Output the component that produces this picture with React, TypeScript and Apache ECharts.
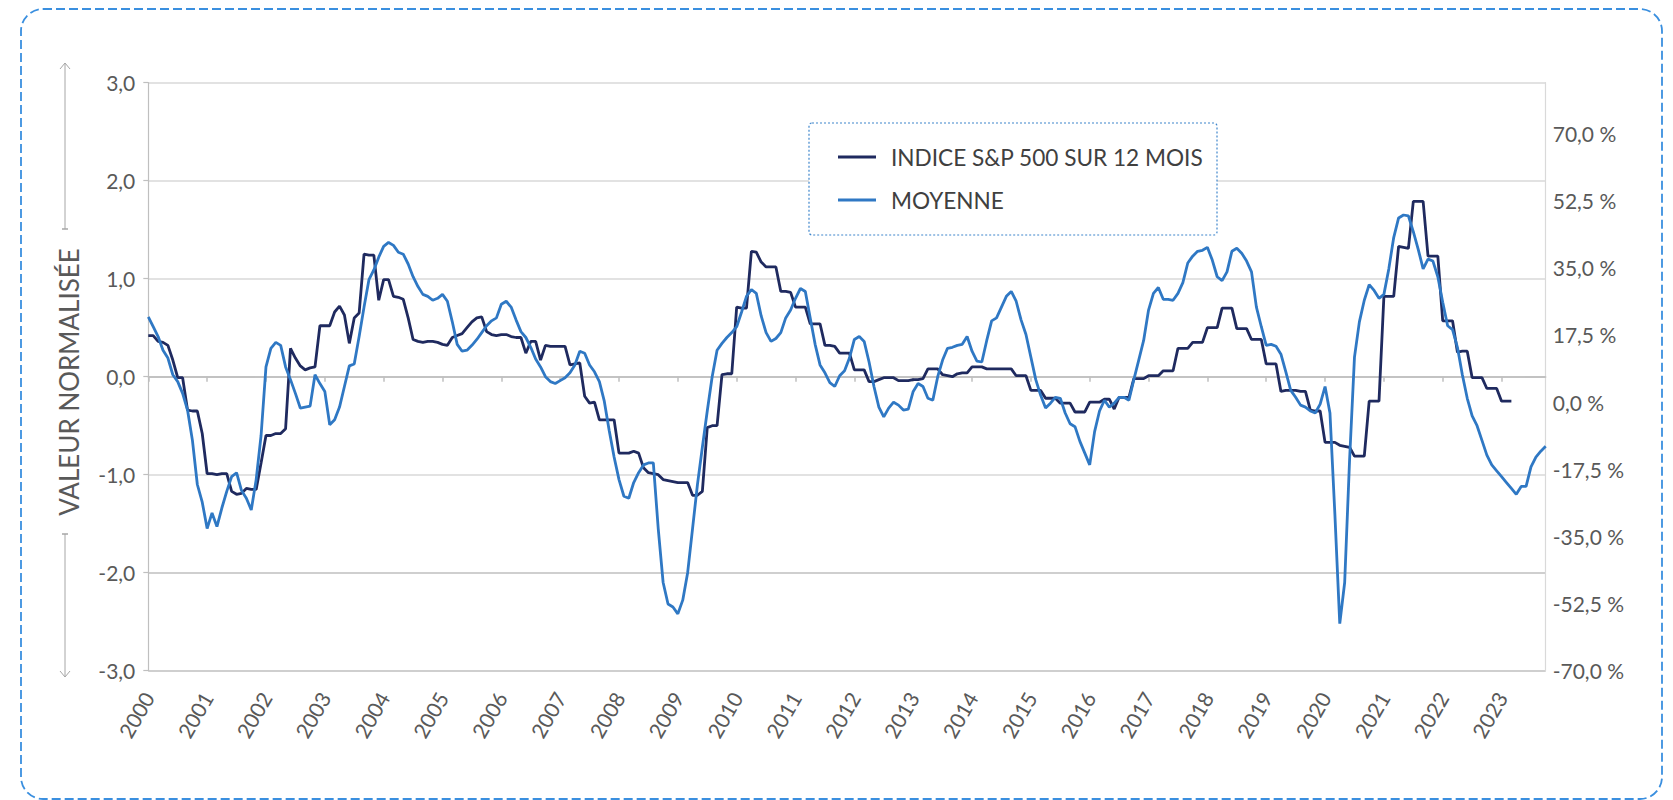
import React, { useEffect, useRef } from 'react';
import * as echarts from 'echarts';

const FONT = 'Lato, "Open Sans", sans-serif';

// Year labels of the monthly category axis (Jan 2000 -> Oct 2023)
const yearLabels = [
  '2000', '2001', '2002', '2003', '2004', '2005', '2006', '2007', '2008', '2009', '2010', '2011',
  '2012', '2013', '2014', '2015', '2016', '2017', '2018', '2019', '2020', '2021', '2022', '2023',
];
const monthsInLastYear = 10;

// INDICE S&P 500 SUR 12 MOIS (normalised), monthly
const sp500_2000_2003 = [
  0.42, 0.42, 0.36, 0.35, 0.32, 0.17, -0.01, -0.01, -0.34, -0.35, -0.35, -0.58,
  -0.99, -0.99, -1.0, -0.99, -0.99, -1.17, -1.2, -1.19, -1.14, -1.15, -1.15, -0.88,
  -0.6, -0.6, -0.58, -0.58, -0.53, 0.29, 0.19, 0.11, 0.07, 0.09, 0.1, 0.52,
  0.52, 0.52, 0.66, 0.72, 0.63, 0.34, 0.6, 0.65, 1.25, 1.24, 1.24, 0.78,
];
const sp500_2004_2007 = [
  0.99, 0.99, 0.82, 0.81, 0.79, 0.6, 0.38, 0.36, 0.35, 0.36, 0.36, 0.35,
  0.33, 0.32, 0.4, 0.42, 0.44, 0.5, 0.56, 0.6, 0.61, 0.46, 0.43, 0.42,
  0.43, 0.43, 0.41, 0.4, 0.4, 0.24, 0.36, 0.36, 0.17, 0.32, 0.31, 0.31,
  0.31, 0.31, 0.12, 0.13, 0.14, -0.2, -0.27, -0.26, -0.44, -0.44, -0.44, -0.44,
];
const sp500_2008_2011 = [
  -0.78, -0.78, -0.78, -0.76, -0.78, -0.93, -0.98, -0.99, -1.0, -1.05, -1.06, -1.07,
  -1.08, -1.08, -1.08, -1.21, -1.21, -1.17, -0.52, -0.5, -0.5, 0.02, 0.03, 0.03,
  0.71, 0.7, 0.7, 1.28, 1.27, 1.17, 1.12, 1.12, 1.12, 0.87, 0.87, 0.86,
  0.71, 0.71, 0.71, 0.54, 0.54, 0.54, 0.32, 0.32, 0.31, 0.24, 0.24, 0.24,
];
const sp500_2012_2015 = [
  0.07, 0.07, 0.07, -0.05, -0.05, -0.03, -0.01, -0.01, -0.01, -0.04, -0.04, -0.04,
  -0.03, -0.03, -0.02, 0.08, 0.08, 0.08, 0.02, 0.01, 0.0, 0.03, 0.04, 0.04,
  0.1, 0.1, 0.1, 0.08, 0.08, 0.08, 0.08, 0.08, 0.08, 0.01, 0.01, 0.01,
  -0.14, -0.14, -0.14, -0.22, -0.22, -0.22, -0.27, -0.27, -0.27, -0.36, -0.36, -0.36,
];
const sp500_2016_2019 = [
  -0.26, -0.26, -0.26, -0.23, -0.23, -0.33, -0.21, -0.21, -0.21, -0.02, -0.02, -0.02,
  0.01, 0.01, 0.01, 0.06, 0.06, 0.06, 0.29, 0.29, 0.29, 0.35, 0.35, 0.35,
  0.5, 0.5, 0.5, 0.7, 0.7, 0.7, 0.49, 0.49, 0.49, 0.38, 0.38, 0.38,
  0.13, 0.13, 0.13, -0.15, -0.14, -0.14, -0.14, -0.15, -0.15, -0.34, -0.35, -0.35,
];
const sp500_2020_2023 = [
  -0.67, -0.67, -0.67, -0.7, -0.71, -0.72, -0.81, -0.81, -0.81, -0.25, -0.25, -0.25,
  0.82, 0.82, 0.82, 1.33, 1.32, 1.31, 1.79, 1.79, 1.79, 1.23, 1.23, 1.23,
  0.57, 0.57, 0.57, 0.25, 0.26, 0.26, -0.01, -0.01, -0.01, -0.12, -0.12, -0.12,
  -0.25, -0.25, -0.25, null, null, null, null, null, null, null,
];

// MOYENNE (normalised), monthly
const moyenne_2000_2003 = [
  0.61, 0.51, 0.41, 0.27, 0.19, 0.02, -0.05, -0.17, -0.34, -0.65, -1.1, -1.28,
  -1.55, -1.39, -1.53, -1.34, -1.17, -1.02, -0.98, -1.16, -1.24, -1.36, -1.05, -0.6,
  0.1, 0.29, 0.35, 0.32, 0.1, -0.03, -0.17, -0.32, -0.31, -0.3, 0.02, -0.07,
  -0.15, -0.49, -0.44, -0.31, -0.1, 0.11, 0.13, 0.41, 0.71, 0.99, 1.09, 1.22,
];
const moyenne_2004_2007 = [
  1.33, 1.37, 1.34, 1.27, 1.25, 1.15, 1.02, 0.92, 0.84, 0.82, 0.78, 0.8,
  0.84, 0.77, 0.56, 0.33, 0.26, 0.27, 0.32, 0.38, 0.45, 0.52, 0.57, 0.6,
  0.74, 0.77, 0.71, 0.58, 0.46, 0.4, 0.3, 0.18, 0.1, 0.0, -0.05, -0.07,
  -0.04, -0.01, 0.04, 0.12, 0.26, 0.24, 0.12, 0.05, -0.05, -0.25, -0.55, -0.82,
];
const moyenne_2008_2011 = [
  -1.05, -1.22, -1.24, -1.08, -0.98, -0.9, -0.88, -0.88, -1.55, -2.1, -2.32, -2.35,
  -2.42, -2.28, -2.0, -1.55, -1.1, -0.72, -0.35, 0.0, 0.27, 0.34, 0.4, 0.45,
  0.51, 0.66, 0.82, 0.89, 0.85, 0.62, 0.45, 0.36, 0.39, 0.45, 0.6, 0.68,
  0.8, 0.9, 0.87, 0.6, 0.33, 0.12, 0.04, -0.06, -0.1, 0.01, 0.06, 0.19,
];
const moyenne_2012_2015 = [
  0.38, 0.41, 0.36, 0.15, -0.1, -0.31, -0.41, -0.32, -0.26, -0.29, -0.34, -0.33,
  -0.15, -0.07, -0.1, -0.22, -0.24, 0.0, 0.17, 0.29, 0.3, 0.32, 0.33, 0.41,
  0.26, 0.16, 0.15, 0.37, 0.57, 0.6, 0.71, 0.82, 0.87, 0.77, 0.58, 0.43,
  0.2, -0.03, -0.19, -0.32, -0.27, -0.21, -0.22, -0.37, -0.48, -0.51, -0.66, -0.78,
];
const moyenne_2016_2019 = [
  -0.9, -0.56, -0.35, -0.24, -0.31, -0.27, -0.21, -0.21, -0.24, -0.03, 0.17, 0.37,
  0.68, 0.85, 0.91, 0.79, 0.79, 0.78, 0.85, 0.96, 1.16, 1.23, 1.28, 1.29,
  1.32, 1.19, 1.02, 0.98, 1.07, 1.28, 1.31, 1.26, 1.18, 1.07, 0.71, 0.51,
  0.32, 0.33, 0.31, 0.23, 0.05, -0.14, -0.21, -0.29, -0.31, -0.35, -0.37, -0.28,
];
const moyenne_2020_2023 = [
  -0.1, -0.37, -1.4, -2.52, -2.1, -0.85, 0.2, 0.56, 0.78, 0.94, 0.88, 0.8,
  0.84, 1.1, 1.42, 1.62, 1.65, 1.64, 1.48, 1.3, 1.1, 1.2, 1.18, 1.02,
  0.76, 0.52, 0.48, 0.3, 0.02, -0.22, -0.4, -0.5, -0.65, -0.8, -0.9, -0.96,
  -1.02, -1.08, -1.14, -1.2, -1.12, -1.12, -0.92, -0.82, -0.76, -0.71,
];

const sp500 = [
  ...sp500_2000_2003, ...sp500_2004_2007, ...sp500_2008_2011,
  ...sp500_2012_2015, ...sp500_2016_2019, ...sp500_2020_2023,
];
const moyenne = [
  ...moyenne_2000_2003, ...moyenne_2004_2007, ...moyenne_2008_2011,
  ...moyenne_2012_2015, ...moyenne_2016_2019, ...moyenne_2020_2023,
];

// Left axis (normalised value) and right axis (percent) bounds
const leftMin = -3;
const leftMax = 3;
const leftStep = 1;
const rightMin = -70;
const rightMax = 83.2;
const rightStep = 17.5;

const seriesNames = ['INDICE S&P 500 SUR 12 MOIS', 'MOYENNE'];
const seriesColors = ['#1f2a5f', '#2f78c4'];

const months: string[] = [];
yearLabels.forEach((y, yi) => {
  const n = yi === yearLabels.length - 1 ? monthsInLastYear : 12;
  for (let m = 1; m <= n; m++) months.push(`${y}-${String(m).padStart(2, '0')}`);
});

const GRAY = '#a6a6a6';
const LABEL_SIZE = 21;

export default function App() {
  const ref = useRef<HTMLDivElement>(null);

  useEffect(() => {
    if (!ref.current) return;
    const chart = echarts.init(ref.current, null, { renderer: 'svg' });

    const option: any = {
      animation: false,
      backgroundColor: '#ffffff',
      textStyle: { fontFamily: FONT },
      grid: { left: 148.3, right: 127.3, top: 82.7, bottom: 129.3, containLabel: false },
      legend: {
        show: true,
        orient: 'vertical',
        left: 838,
        top: 144,
        padding: 0,
        icon: 'rect',
        itemWidth: 38,
        itemHeight: 3,
        itemGap: 17,
        selectedMode: false,
        z: 5,
        textStyle: {
          fontFamily: FONT,
          fontSize: 22.6,
          color: '#404040',
          lineHeight: 26,
          padding: [0, 0, 0, 10],
        },
        data: seriesNames,
      },
      xAxis: {
        type: 'category',
        data: months,
        boundaryGap: false,
        axisLine: { show: true, lineStyle: { color: '#bfbfbf', width: 1.5 } },
        axisTick: { show: true, interval: 11, length: 5, lineStyle: { color: '#bfbfbf', width: 1.5 } },
        axisLabel: {
          interval: 11,
          rotate: 60,
          margin: 23,
          fontFamily: FONT,
          fontSize: LABEL_SIZE,
          color: '#595959',
          formatter: (v: string) => v.slice(0, 4),
        },
        splitLine: { show: false },
      },
      yAxis: [
        {
          type: 'value',
          min: leftMin,
          max: leftMax,
          interval: leftStep,
          position: 'left',
          axisLine: { show: true, lineStyle: { color: '#bfbfbf', width: 1.2 } },
          axisTick: { show: true, inside: false, length: 5, lineStyle: { color: '#bfbfbf', width: 1.2 } },
          axisLabel: {
            margin: 13,
            fontFamily: FONT,
            fontSize: LABEL_SIZE,
            color: '#595959',
            formatter: (v: number) => v.toFixed(1).replace('.', ','),
          },
          splitLine: {
            show: true,
            lineStyle: {
              width: 1.5,
              color: ['#bfbfbf', '#bfbfbf', '#d9d9d9', '#bfbfbf', '#d9d9d9', '#d9d9d9', '#d9d9d9'],
            },
          },
        },
        {
          type: 'value',
          min: rightMin,
          max: rightMax,
          interval: rightStep,
          position: 'right',
          axisLine: { show: true, lineStyle: { color: '#d9d9d9', width: 1.2 } },
          axisTick: { show: false },
          splitLine: { show: false },
          axisLabel: {
            margin: 7,
            fontFamily: FONT,
            fontSize: LABEL_SIZE,
            color: '#595959',
            formatter: (v: number) =>
              v > 71 ? '' : v.toFixed(1).replace('.', ',') + ' %',
          },
        },
      ],
      series: [
        {
          name: seriesNames[0],
          type: 'line',
          yAxisIndex: 0,
          data: sp500,
          symbol: 'none',
          showSymbol: false,
          connectNulls: false,
          color: seriesColors[0],
          lineStyle: { width: 2.8, color: seriesColors[0] },
          emphasis: { disabled: true },
          z: 2,
        },
        {
          name: seriesNames[1],
          type: 'line',
          yAxisIndex: 0,
          data: moyenne,
          symbol: 'none',
          showSymbol: false,
          color: seriesColors[1],
          lineStyle: { width: 2.8, color: seriesColors[1] },
          emphasis: { disabled: true },
          z: 3,
        },
      ],
      graphic: [
        {
          type: 'rect',
          silent: true,
          z: -10,
          shape: { x: 21, y: 9, width: 1641, height: 790, r: 22 },
          style: { fill: 'rgba(0,0,0,0)', stroke: '#3a8fdf', lineWidth: 1.8, lineDash: [9, 4] },
        },
        {
          type: 'rect',
          silent: true,
          z: 4,
          shape: { x: 809, y: 123, width: 408, height: 112, r: 3 },
          style: { fill: '#ffffff', stroke: '#3f86cc', lineWidth: 1.2, lineDash: [2, 2] },
        },
        {
          type: 'text',
          silent: true,
          x: 69,
          y: 382,
          rotation: Math.PI / 2,
          style: {
            text: 'VALEUR NORMALISÉE',
            font: `26px ${FONT}`,
            fill: '#595959',
            align: 'center',
            verticalAlign: 'middle',
          },
        },
        // upper arrow
        { type: 'line', silent: true, shape: { x1: 65, y1: 63, x2: 65, y2: 229 }, style: { stroke: GRAY, lineWidth: 1 } },
        { type: 'polyline', silent: true, shape: { points: [[60, 69], [65, 63], [70, 69]] }, style: { stroke: GRAY, lineWidth: 1, fill: null } },
        { type: 'line', silent: true, shape: { x1: 62, y1: 229, x2: 68, y2: 229 }, style: { stroke: GRAY, lineWidth: 1.5 } },
        // lower arrow
        { type: 'line', silent: true, shape: { x1: 62, y1: 534, x2: 68, y2: 534 }, style: { stroke: GRAY, lineWidth: 1.5 } },
        { type: 'line', silent: true, shape: { x1: 65, y1: 534, x2: 65, y2: 677 }, style: { stroke: GRAY, lineWidth: 1 } },
        { type: 'polyline', silent: true, shape: { points: [[60, 671], [65, 677], [70, 671]] }, style: { stroke: GRAY, lineWidth: 1, fill: null } },
      ],
    };

    chart.setOption(option);
    return () => chart.dispose();
  }, []);

  return (
    <div
      ref={ref}
      style={{ position: 'absolute', left: 0, top: 0, width: 1673, height: 800 }}
    />
  );
}
